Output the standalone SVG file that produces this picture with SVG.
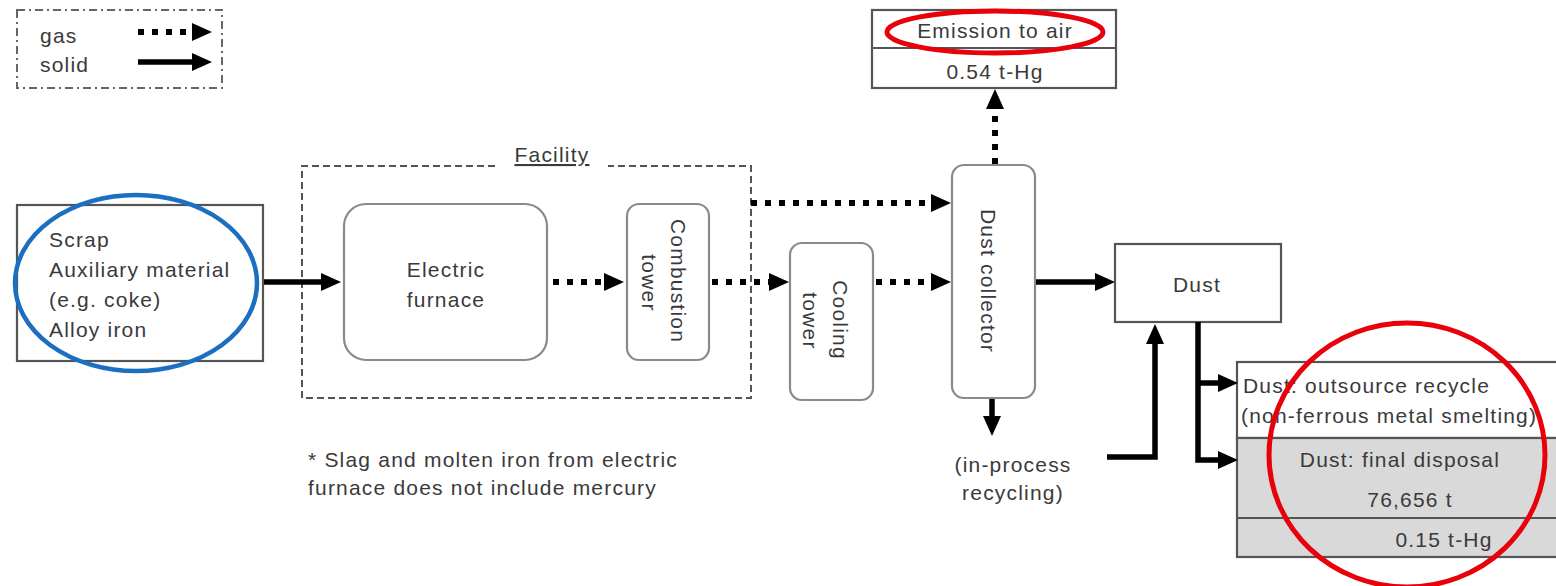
<svg xmlns="http://www.w3.org/2000/svg" width="1556" height="586" viewBox="0 0 1556 586">
<style>
text{font-family:"Liberation Sans",Arial,sans-serif;font-size:21px;fill:#3a3a3a;letter-spacing:1.2px}
.box{fill:#fff;stroke:#555;stroke-width:2.2}
.rbox{fill:#fff;stroke:#8a8a8a;stroke-width:2.2}
.gray{fill:#d9d9d9;stroke:#555;stroke-width:2.2}
.solid{fill:none;stroke:#000;stroke-width:5.5;marker-end:url(#ah)}
.dot{fill:none;stroke:#000;stroke-width:6;stroke-dasharray:6 8;marker-end:url(#ah)}
.mid{text-anchor:middle}
</style>
<defs>
<marker id="ah" markerUnits="userSpaceOnUse" markerWidth="20" markerHeight="18" viewBox="0 -9 20 18" refX="0" refY="0" orient="auto" overflow="visible">
<path d="M0,-9 L20,0 L0,9 z" fill="#000"/>
</marker>
</defs>

<g id="legend">
<rect x="17" y="10" width="205" height="78" fill="#fff" stroke="#666" stroke-width="2" stroke-dasharray="8 4 2 4"/>
<text x="40" y="43">gas</text>
<text x="40" y="72">solid</text>
<line class="dot" x1="138" y1="32" x2="192" y2="32"/>
<line class="solid" x1="138" y1="62" x2="192" y2="62"/>
</g>

<g id="emission">
<rect class="box" x="872" y="10" width="244" height="78"/>
<line x1="872" y1="48" x2="1116" y2="48" stroke="#555" stroke-width="2"/>
<text class="mid" x="995" y="38">Emission to air</text>
<text class="mid" x="995" y="79">0.54 t-Hg</text>
<ellipse cx="995" cy="32" rx="108" ry="21" fill="none" stroke="#e8000b" stroke-width="5"/>
</g>

<g id="input">
<rect class="box" x="17" y="205" width="246" height="156"/>
<text x="49" y="247">Scrap</text>
<text x="49" y="277">Auxiliary material</text>
<text x="49" y="307">(e.g. coke)</text>
<text x="49" y="337">Alloy iron</text>
<ellipse cx="136" cy="283" rx="121" ry="88" fill="none" stroke="#1a6fc0" stroke-width="4.5"/>
</g>

<g id="facility">
<path d="M495,166 H302 V398 H751 V166 H608" fill="none" stroke="#555" stroke-width="2" stroke-dasharray="7 4"/>
<text class="mid" x="552" y="162" text-decoration="underline">Facility</text>
</g>

<g id="electric-furnace">
<rect class="rbox" x="344" y="204" width="203" height="156" rx="22"/>
<text class="mid" x="446" y="277">Electric</text>
<text class="mid" x="446" y="307">furnace</text>
</g>

<g id="combustion-tower">
<rect class="rbox" x="627" y="204" width="82" height="156" rx="12"/>
<text class="mid" dominant-baseline="central" transform="translate(678,281) rotate(90)">Combustion</text>
<text class="mid" dominant-baseline="central" transform="translate(649,283) rotate(90)">tower</text>
</g>

<g id="cooling-tower">
<rect class="rbox" x="790" y="243" width="83" height="157" rx="12"/>
<text class="mid" dominant-baseline="central" transform="translate(840,320) rotate(90)">Cooling</text>
<text class="mid" dominant-baseline="central" transform="translate(810,321) rotate(90)">tower</text>
</g>

<g id="dust-collector">
<rect class="rbox" x="952" y="165" width="83" height="233" rx="12"/>
<text class="mid" dominant-baseline="central" transform="translate(988,281) rotate(90)">Dust collector</text>
</g>

<g id="in-process">
<text class="mid" x="1013" y="472">(in-process</text>
<text class="mid" x="1013" y="500">recycling)</text>
</g>

<g id="dust">
<rect class="box" x="1115" y="244" width="166" height="78"/>
<text class="mid" x="1197" y="292">Dust</text>
</g>

<g id="outsource">
<rect class="box" x="1237" y="362" width="330" height="76"/>
<text x="1243" y="393">Dust: outsource recycle</text>
<text x="1241" y="423">(non-ferrous metal smelting)</text>
</g>

<g id="final-disposal">
<rect class="gray" x="1237" y="438" width="330" height="119"/>
<line x1="1237" y1="518" x2="1567" y2="518" stroke="#555" stroke-width="2"/>
<text class="mid" x="1400" y="467">Dust: final disposal</text>
<text class="mid" x="1410" y="507">76,656 t</text>
<text class="mid" x="1444" y="547">0.15 t-Hg</text>
<ellipse cx="1407" cy="455" rx="138" ry="132" fill="none" stroke="#e8000b" stroke-width="5"/>
</g>

<g id="note">
<text x="308" y="467">* Slag and molten iron from electric</text>
<text x="308" y="495">furnace does not include mercury</text>
</g>

<g id="connectors">
<line class="solid" x1="264" y1="282" x2="321" y2="282"/>
<line class="dot" x1="553" y1="282" x2="604" y2="282"/>
<line class="dot" x1="712" y1="282" x2="769" y2="282"/>
<line class="dot" x1="751" y1="203" x2="931" y2="203"/>
<line class="dot" x1="876" y1="282" x2="931" y2="282"/>
<line class="solid" x1="1036" y1="282" x2="1095" y2="282"/>
<line class="dot" x1="995" y1="164" x2="995" y2="109"/>
<line class="solid" x1="992" y1="399" x2="992" y2="416"/>
<polyline class="solid" points="1107,457 1155,457 1155,344"/>
<polyline class="solid" points="1198,322 1198,460 1218,460"/>
<line class="solid" x1="1198" y1="383" x2="1218" y2="383"/>
</g>
</svg>
